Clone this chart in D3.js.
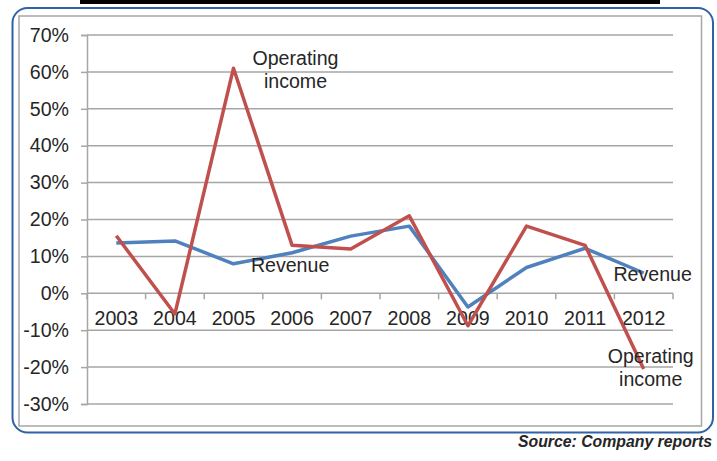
<!DOCTYPE html>
<html>
<head>
<meta charset="utf-8">
<script src="https://cdn.jsdelivr.net/npm/d3@7"></script>
<style>
  html, body { margin: 0; padding: 0; background: #fff; }
  svg { display: block; }
  text { font-family: "Liberation Sans", Arial, sans-serif; fill: #262626; }
</style>
</head>
<body>
<svg id="chart" width="717" height="461"></svg>
<script>
// Year-on-year growth, 2003–2012
const years = ["2003","2004","2005","2006","2007","2008","2009","2010","2011","2012"];
const revenueGrowth = [13.6, 14.2, 8.0, 11.0, 15.5, 18.2, -3.7, 7.0, 12.2, 5.5];
const operatingIncomeGrowth = [15.6, -5.6, 61.0, 13.0, 12.0, 21.0, -8.8, 18.2, 13.0, -20.5];
const yTicks = [-30, -20, -10, 0, 10, 20, 30, 40, 50, 60, 70];

const svg = d3.select("#chart");
const FONT = '"Liberation Sans", Arial, sans-serif';
const FS = 19.6;

// Plot area
const plot = { left: 87, right: 673, top: 35, bottom: 404 };

const x = d3.scaleBand().domain(years).range([plot.left, plot.right]);
const y = d3.scaleLinear().domain([-30, 70]).range([plot.bottom, plot.top]);
const cx = d => x(d) + x.bandwidth() / 2;

// Thin black rule across the top
svg.append("rect").attr("x", 80).attr("y", 0).attr("width", 580).attr("height", 4).attr("fill", "#000");

// Outer rounded blue frame
svg.append("rect")
  .attr("x", 12.5).attr("y", 8).attr("width", 700.5).attr("height", 424.5)
  .attr("rx", 15).attr("ry", 15)
  .attr("fill", "none").attr("stroke", "#2f62a6").attr("stroke-width", 2);

// Inner grey frame of the chart area
svg.append("rect")
  .attr("x", 19).attr("y", 16).attr("width", 682.5).attr("height", 410)
  .attr("fill", "none").attr("stroke", "#a6a6a6").attr("stroke-width", 1.5);

// Horizontal gridlines
svg.append("g").selectAll("line").data(yTicks).join("line")
  .attr("x1", plot.left).attr("x2", plot.right)
  .attr("y1", d => y(d)).attr("y2", d => y(d))
  .attr("stroke", "#a6a6a6").attr("stroke-width", 1.5);

// Value axis
const yAxis = d3.axisLeft(y).tickValues(yTicks).tickSize(6).tickPadding(12)
  .tickFormat(d => d + "%");
const gy = svg.append("g").attr("transform", `translate(${plot.left},0)`).call(yAxis);
gy.select(".domain").attr("stroke", "#a6a6a6").attr("stroke-width", 1.5);
gy.selectAll(".tick line").attr("stroke", "#a6a6a6").attr("stroke-width", 1.5);
gy.selectAll(".tick text").attr("font-size", FS).attr("fill", "#262626")
  .style("font-family", FONT);

// Category axis sitting on the 0% line
const xAxis = d3.axisBottom(x).tickSize(0).tickPadding(18);
const gx = svg.append("g").attr("transform", `translate(0,${y(0)})`).call(xAxis);
gx.select(".domain").remove();
gx.selectAll(".tick text").attr("font-size", FS).attr("fill", "#262626")
  .style("font-family", FONT);
// tick marks between categories
const bounds = years.map(d => x(d)).concat([plot.right]);
gx.append("g").selectAll("line").data(bounds).join("line")
  .attr("x1", d => d).attr("x2", d => d).attr("y1", 0).attr("y2", 6)
  .attr("stroke", "#a6a6a6").attr("stroke-width", 1.5);

// Series lines
const line = d3.line().x((d, i) => cx(years[i])).y(d => y(d));
svg.append("path").datum(revenueGrowth)
  .attr("d", line).attr("fill", "none")
  .attr("stroke", "#4f81bd").attr("stroke-width", 3.5).attr("stroke-linejoin", "round");
svg.append("path").datum(operatingIncomeGrowth)
  .attr("d", line).attr("fill", "none")
  .attr("stroke", "#c0504d").attr("stroke-width", 3.5).attr("stroke-linejoin", "round");

// Series labels
function label(lines, px, py) {
  const t = svg.append("text").attr("text-anchor", "middle").attr("font-size", FS);
  lines.forEach((s, i) => t.append("tspan").attr("x", px).attr("y", py + i * 22.5).text(s));
}
label(["Operating", "income"], cx("2005") + 62, y(61) - 3);
label(["Revenue"], cx("2006") - 2, y(6) + 1);
label(["Revenue"], cx("2012") + 9, y(3.5) + 1);
label(["Operating", "income"], cx("2012") + 7, y(-19) + 0);

// Source note
svg.append("text").attr("x", 712).attr("y", 447).attr("text-anchor", "end")
  .attr("font-size", 15.8).attr("font-weight", "bold").attr("font-style", "italic")
  .attr("fill", "#111").text("Source: Company reports");
</script>
</body>
</html>
